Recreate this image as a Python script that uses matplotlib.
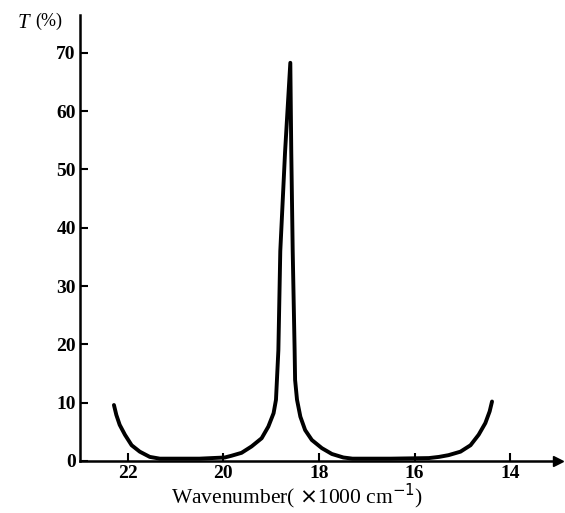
import numpy as np
import matplotlib.pyplot as plt

# Transmission curve (wavenumber in 1000 cm^-1, T in %)
wavenumber = [22.29, 22.24, 22.17, 22.06, 21.92, 21.75, 21.54, 21.33, 21.1,
              20.5, 19.97, 19.83, 19.62, 19.41, 19.20, 19.06, 18.95, 18.90,
              18.88, 18.85, 18.81, 18.71, 18.60, 18.58, 18.55, 18.51, 18.50,
              18.46, 18.39, 18.29, 18.15, 17.94, 17.73, 17.49, 17.3, 16.5,
              15.70, 15.49, 15.29, 15.04, 14.83, 14.66, 14.52, 14.43, 14.38]
transmission = [9.6, 7.9, 6.2, 4.5, 2.7, 1.6, 0.7, 0.4, 0.4,
                0.4, 0.6, 0.9, 1.4, 2.5, 3.9, 5.9, 8.2, 10.5,
                13.9, 19.0, 36.0, 53.0, 68.3, 53.0, 36.0, 19.0, 13.9,
                10.5, 7.6, 5.3, 3.6, 2.2, 1.2, 0.6, 0.4, 0.4,
                0.5, 0.7, 1.0, 1.6, 2.7, 4.5, 6.5, 8.5, 10.2]

x_ticks = [22, 20, 18, 16, 14]
y_ticks = [0, 10, 20, 30, 40, 50, 60, 70]

plt.rcParams['font.family'] = 'Liberation Serif'

fig = plt.figure(figsize=(5.65, 5.13), dpi=100)
ax = fig.add_axes([0.1416, 0.1014, 0.846, 0.8694])

ax.plot(wavenumber, transmission, color='black', linewidth=2.8,
        solid_capstyle='round', solid_joinstyle='round')

ax.set_xlim(23.0, 13.0)
ax.set_ylim(0, 76.5)

# only the left and bottom axes, with arrow heads
for side in ['top', 'right']:
    ax.spines[side].set_visible(False)
for side in ['left', 'bottom']:
    ax.spines[side].set_linewidth(1.8)
ax.plot(1, 0, '>k', markersize=7, transform=ax.get_yaxis_transform(), clip_on=False)
ax.plot(0, 1, '^k', markersize=7, transform=ax.get_xaxis_transform(), clip_on=False)

ax.set_xticks(x_ticks)
ax.set_yticks(y_ticks)
ax.tick_params(direction='in', length=6, width=1.5, labelsize=14, pad=3)
for lab in ax.get_xticklabels() + ax.get_yticklabels():
    lab.set_fontweight('bold')

fig.text(0.032, 0.955, 'T', fontsize=15, style='italic', ha='left', va='center')
fig.text(0.062, 0.958, '(%)', fontsize=13, ha='left', va='center')
fig.text(0.525, 0.032, r'Wavenumber( $\times$1000 cm$^{-1}$)', fontsize=15.5,
         ha='center', va='center')

plt.savefig('out.png', dpi=100)
